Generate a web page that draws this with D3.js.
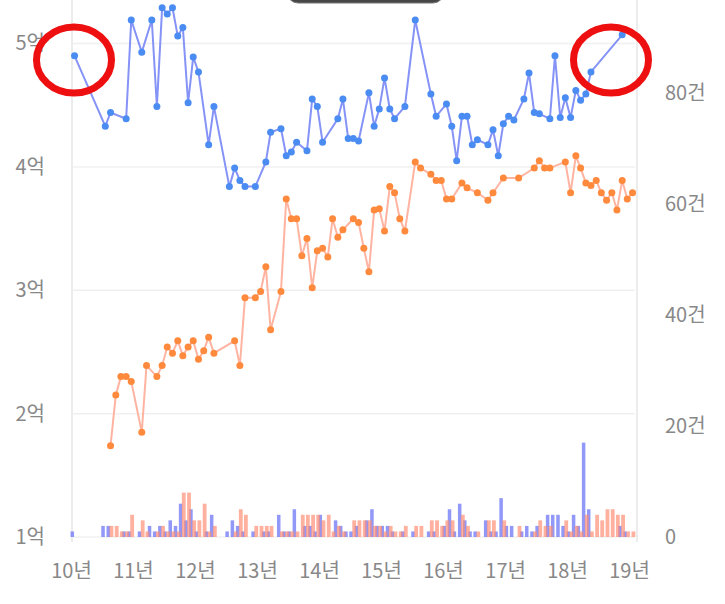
<!DOCTYPE html>
<html>
<head>
<meta charset="utf-8">
<script src="https://cdn.jsdelivr.net/npm/d3@7/dist/d3.min.js"></script>
<style>
    body { margin: 0; background: #fff; }
    svg text { font-family: "Noto Sans CJK KR", "Noto Sans", sans-serif; fill: #888; }
</style>
</head>
<body>
<svg id="chart" width="725" height="604"></svg>
<script>
// Dades: preu mitjà (억) per mes
var salePrice = [
    ["2010-01",4.90],["2010-07",4.33],["2010-08",4.44],["2010-11",4.39],["2010-12",5.19],
    ["2011-02",4.93],["2011-04",5.19],["2011-05",4.49],["2011-06",5.29],["2011-07",5.24],
    ["2011-08",5.29],["2011-09",5.06],["2011-10",5.13],["2011-11",4.52],["2011-12",4.89],
    ["2012-01",4.77],["2012-03",4.18],["2012-04",4.49],["2012-07",3.84],["2012-08",3.99],
    ["2012-09",3.89],["2012-10",3.84],["2012-12",3.84],["2013-02",4.04],["2013-03",4.28],
    ["2013-05",4.31],["2013-06",4.09],["2013-07",4.12],["2013-08",4.20],["2013-10",4.13],
    ["2013-11",4.55],["2013-12",4.49],["2014-01",4.20],["2014-04",4.39],["2014-05",4.55],
    ["2014-06",4.23],["2014-07",4.23],["2014-08",4.21],["2014-10",4.60],["2014-11",4.33],
    ["2014-12",4.47],["2015-01",4.72],["2015-02",4.47],["2015-03",4.39],["2015-05",4.49],
    ["2015-07",5.19],["2015-10",4.59],["2015-11",4.41],["2016-01",4.51],["2016-02",4.33],
    ["2016-03",4.05],["2016-04",4.41],["2016-05",4.41],["2016-06",4.18],["2016-07",4.22],
    ["2016-09",4.18],["2016-10",4.30],["2016-11",4.09],["2016-12",4.35],["2017-01",4.41],
    ["2017-02",4.38],["2017-04",4.55],["2017-05",4.76],["2017-06",4.44],["2017-07",4.43],
    ["2017-09",4.39],["2017-10",4.90],["2017-11",4.40],["2017-12",4.56],["2018-01",4.40],
    ["2018-02",4.62],["2018-03",4.54],["2018-04",4.59],["2018-05",4.77],["2018-11",5.07]
];

var leasePrice = [
    ["2010-08",1.74],["2010-09",2.15],["2010-10",2.30],["2010-11",2.30],["2010-12",2.26],
    ["2011-02",1.85],["2011-03",2.39],["2011-05",2.30],["2011-06",2.39],["2011-07",2.54],
    ["2011-08",2.49],["2011-09",2.59],["2011-10",2.47],["2011-11",2.54],["2011-12",2.59],
    ["2012-01",2.44],["2012-02",2.51],["2012-03",2.62],["2012-04",2.49],["2012-08",2.59],
    ["2012-09",2.39],["2012-10",2.94],["2012-12",2.94],["2013-01",2.99],["2013-02",3.19],
    ["2013-03",2.68],["2013-05",2.99],["2013-06",3.74],["2013-07",3.58],["2013-08",3.58],
    ["2013-09",3.28],["2013-10",3.42],["2013-11",3.02],["2013-12",3.32],["2014-01",3.34],
    ["2014-02",3.27],["2014-03",3.58],["2014-04",3.43],["2014-05",3.49],["2014-07",3.58],
    ["2014-08",3.55],["2014-09",3.34],["2014-10",3.15],["2014-11",3.65],["2014-12",3.66],
    ["2015-01",3.48],["2015-02",3.84],["2015-03",3.79],["2015-04",3.58],["2015-05",3.48],
    ["2015-07",4.04],["2015-08",3.99],["2015-10",3.94],["2015-11",3.89],["2015-12",3.89],
    ["2016-01",3.74],["2016-02",3.74],["2016-04",3.87],["2016-05",3.83],["2016-07",3.79],
    ["2016-09",3.73],["2016-10",3.79],["2016-12",3.91],["2017-03",3.91],["2017-06",3.99],
    ["2017-07",4.05],["2017-08",3.99],["2017-09",3.99],["2017-12",4.04],["2018-01",3.79],
    ["2018-02",4.09],["2018-03",3.99],["2018-04",3.87],["2018-05",3.85],["2018-06",3.89],
    ["2018-07",3.79],["2018-08",3.73],["2018-09",3.79],["2018-10",3.65],["2018-11",3.89],
    ["2018-12",3.74],["2019-01",3.79]
];

// Dades: nombre de transaccions (건) per mes
var saleCount = [
    ["2010-01",1],["2010-07",2],["2010-08",2],["2010-11",1],["2010-12",1],["2011-02",1],
    ["2011-04",2],["2011-05",1],["2011-06",2],["2011-07",1],["2011-08",3],["2011-09",2],
    ["2011-10",6],["2011-11",3],["2011-12",5],["2012-01",1],["2012-03",1],["2012-04",4],
    ["2012-07",1],["2012-08",3],["2012-09",2],["2012-10",1],["2012-12",1],["2013-02",1],
    ["2013-03",1],["2013-05",4],["2013-06",1],["2013-07",1],["2013-08",5],["2013-10",2],
    ["2013-11",2],["2013-12",1],["2014-01",4],["2014-04",3],["2014-05",2],["2014-06",1],
    ["2014-07",1],["2014-08",2],["2014-10",3],["2014-11",5],["2014-12",2],["2015-01",2],
    ["2015-02",2],["2015-03",1],["2015-05",1],["2015-07",1],["2015-10",1],["2015-11",1],
    ["2016-01",2],["2016-02",5],["2016-03",1],["2016-04",6],["2016-05",3],["2016-06",1],
    ["2016-07",1],["2016-09",3],["2016-10",1],["2016-11",1],["2016-12",7],["2017-01",2],
    ["2017-02",2],["2017-04",1],["2017-05",2],["2017-06",1],["2017-07",2],["2017-09",4],
    ["2017-10",4],["2017-11",4],["2017-12",2],["2018-01",1],["2018-02",4],["2018-03",2],
    ["2018-04",17],["2018-05",5],["2018-11",2],["2018-12",1]
];

var leaseCount = [
    ["2010-08",2],["2010-09",2],["2010-10",1],["2010-11",1],["2010-12",4],["2011-02",3],
    ["2011-03",1],["2011-05",1],["2011-06",2],["2011-07",1],["2011-08",1],["2011-09",1],
    ["2011-10",8],["2011-11",8],["2011-12",3],["2012-01",3],["2012-02",6],["2012-03",1],
    ["2012-04",2],["2012-08",1],["2012-09",5],["2012-10",4],["2012-12",2],["2013-01",2],
    ["2013-02",2],["2013-03",2],["2013-05",1],["2013-06",1],["2013-07",1],["2013-08",1],
    ["2013-09",4],["2013-10",4],["2013-11",4],["2013-12",4],["2014-01",3],["2014-02",4],
    ["2014-03",1],["2014-04",2],["2014-05",1],["2014-07",3],["2014-08",3],["2014-09",3],
    ["2014-10",3],["2014-11",2],["2014-12",2],["2015-01",1],["2015-02",2],["2015-03",1],
    ["2015-04",1],["2015-05",2],["2015-07",2],["2015-08",2],["2015-10",3],["2015-11",3],
    ["2015-12",2],["2016-01",3],["2016-02",3],["2016-04",4],["2016-05",2],["2016-07",1],
    ["2016-09",3],["2016-10",3],["2016-12",3],["2017-03",2],["2017-06",1],["2017-07",3],
    ["2017-08",2],["2017-09",2],["2017-12",3],["2018-01",1],["2018-02",2],["2018-03",1],
    ["2018-04",4],["2018-05",1],["2018-06",4],["2018-07",3],["2018-08",5],["2018-09",5],
    ["2018-10",4],["2018-11",4],["2018-12",1],["2019-01",1]
];

var priceTicks = [1, 2, 3, 4, 5];
var countTicks = [0, 20, 40, 60, 80];

var parseMonth = d3.timeParse("%Y-%m");
function midMonth(s) { return d3.timeDay.offset(parseMonth(s), 15); }

var svg = d3.select("#chart");

// Escales
var x = d3.scaleTime().domain([new Date(2010, 0, 1), new Date(2019, 0, 1)]).range([72, 630]);
var yPrice = d3.scaleLinear().domain([1, 5]).range([537, 43.5]);
var yCount = d3.scaleLinear().domain([0, 80]).range([537, 93]);

// Línies de la graella
svg.append("g").selectAll("line").data(priceTicks).enter().append("line")
    .attr("x1", 72).attr("x2", 635)
    .attr("y1", function(d) { return yPrice(d); })
    .attr("y2", function(d) { return yPrice(d); })
    .attr("stroke", "#f0f0f0").attr("stroke-width", 1.5);

// Vores verticals
svg.append("line").attr("x1", 72).attr("x2", 72).attr("y1", 0).attr("y2", 542)
    .attr("stroke", "#ececec").attr("stroke-width", 2);
svg.append("line").attr("x1", 637).attr("x2", 637).attr("y1", 0).attr("y2", 542)
    .attr("stroke", "#ececec").attr("stroke-width", 2);

// Barres de transaccions
svg.append("g").selectAll("rect").data(saleCount).enter().append("rect")
    .attr("x", function(d) { return x(midMonth(d[0])) - 4; })
    .attr("width", 3.5)
    .attr("y", function(d) { return yCount(d[1]); })
    .attr("height", function(d) { return yCount(0) - yCount(d[1]); })
    .attr("fill", "#6670f5").attr("fill-opacity", 0.72);

svg.append("g").selectAll("rect").data(leaseCount).enter().append("rect")
    .attr("x", function(d) { return x(midMonth(d[0])) - 1; })
    .attr("width", 3.8)
    .attr("y", function(d) { return yCount(d[1]); })
    .attr("height", function(d) { return yCount(0) - yCount(d[1]); })
    .attr("fill", "#ff8a70").attr("fill-opacity", 0.68);

// Línies de preu
var line = d3.line()
    .x(function(d) { return x(midMonth(d[0])); })
    .y(function(d) { return yPrice(d[1]); });

svg.append("path").datum(leasePrice).attr("d", line)
    .attr("fill", "none").attr("stroke", "#ffb4a2").attr("stroke-width", 2);
svg.append("path").datum(salePrice).attr("d", line)
    .attr("fill", "none").attr("stroke", "#8593f7").attr("stroke-width", 2);

svg.append("g").selectAll("circle").data(leasePrice).enter().append("circle")
    .attr("cx", function(d) { return x(midMonth(d[0])); })
    .attr("cy", function(d) { return yPrice(d[1]); })
    .attr("r", 3.5).attr("fill", "#ff8a3d");
svg.append("g").selectAll("circle").data(salePrice).enter().append("circle")
    .attr("cx", function(d) { return x(midMonth(d[0])); })
    .attr("cy", function(d) { return yPrice(d[1]); })
    .attr("r", 3.5).attr("fill", "#4a8cf2");

// Eixos
var leftAxis = d3.axisLeft(yPrice).tickValues(priceTicks)
    .tickFormat(function(d) { return d + "억"; }).tickSize(0).tickPadding(0);
var gl = svg.append("g").attr("transform", "translate(45,0)").call(leftAxis);

var rightAxis = d3.axisRight(yCount).tickValues(countTicks)
    .tickFormat(function(d) { return d === 0 ? "0" : d + "건"; }).tickSize(0).tickPadding(0);
var gr = svg.append("g").attr("transform", "translate(665,0)").call(rightAxis);

var bottomAxis = d3.axisBottom(x).ticks(d3.timeYear.every(1))
    .tickFormat(d3.timeFormat("%y년")).tickSize(0).tickPadding(0);
var gb = svg.append("g").attr("transform", "translate(-1,564)").call(bottomAxis);

[gl, gr, gb].forEach(function(g) {
    g.select(".domain").remove();
    g.selectAll("text").style("font-size", "20px").attr("fill", null);
});

// Tooltip tallat a dalt
svg.append("rect").attr("x", 287).attr("y", -22).attr("width", 157).attr("height", 25)
    .attr("rx", 11).attr("fill", "#464646").attr("stroke", "#777").attr("stroke-width", 1);

// Marques vermelles
svg.append("ellipse").attr("cx", 74).attr("cy", 60).attr("rx", 37.5).attr("ry", 33)
    .attr("fill", "none").attr("stroke", "#ee1010").attr("stroke-width", 7);
svg.append("ellipse").attr("cx", 611).attr("cy", 60).attr("rx", 37.5).attr("ry", 33)
    .attr("fill", "none").attr("stroke", "#ee1010").attr("stroke-width", 7);
</script>
</body>
</html>
